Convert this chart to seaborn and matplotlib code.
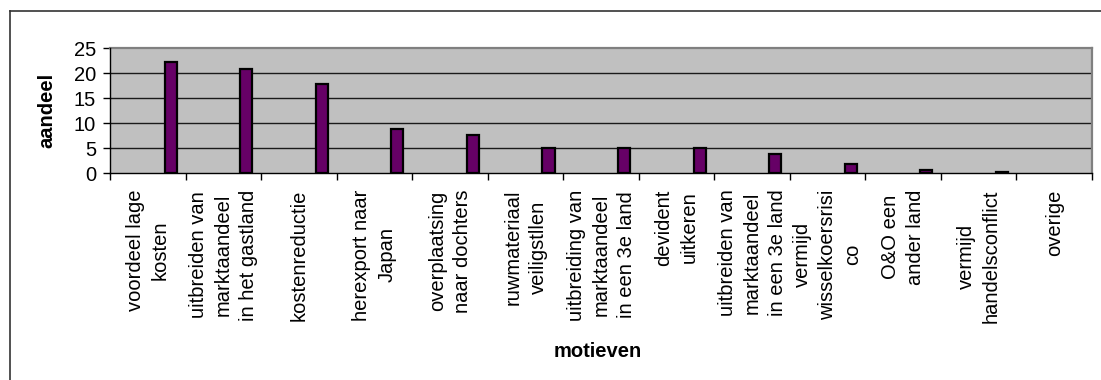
import matplotlib
matplotlib.use("Agg")
import matplotlib.pyplot as plt
import matplotlib.transforms as mtransforms
from matplotlib.lines import Line2D
import seaborn as sns
import numpy as np

# Motives for investing abroad and their share (%)
motieven = [
    "voordeel lage\nkosten",
    "uitbreiden van\nmarktaandeel\nin het gastland",
    "kostenreductie",
    "herexport naar\nJapan",
    "overplaatsing\nnaar dochters",
    "ruwmateriaal\nveiligstllen",
    "uitbreiding van\nmarktaandeel\nin een 3e land",
    "devident\nuitkeren",
    "uitbreiden van\nmarktaandeel\nin een 3e land",
    "vermijd\nwisselkoersrisi\nco",
    "O&O een\nander land",
    "vermijd\nhandelsconflict",
    "overige",
]
aandeel = [22.2, 20.8, 17.9, 8.9, 7.7, 5.1, 5.1, 5.1, 3.8, 1.9, 0.6, 0.3, 0.0]
y_ticks = [0, 5, 10, 15, 20, 25]

plt.rcParams["font.family"] = ["Liberation Sans", "DejaVu Sans"]

W, H = 1101, 380
DPI = 100
fig = plt.figure(figsize=(W / DPI, H / DPI), dpi=DPI)
fig.patch.set_facecolor("white")
FS = 14.5

# Plot area in pixel terms
px_left, px_right, px_top, px_bottom = 110, 1092, 48.3, 173.3
ax = fig.add_axes([px_left / W, 1 - px_bottom / H,
                   (px_right - px_left) / W, (px_bottom - px_top) / H])
ax.set_facecolor("#C0C0C0")

bar_width = 0.16
bar_shift = 0.305
sns.barplot(x=list(range(len(motieven))), y=aandeel, ax=ax,
            color="#660066", saturation=1, edgecolor="black",
            linewidth=1.6, width=bar_width, zorder=3)
# bars sit in the right part of each category slot
for p in ax.patches:
    p.set_x(p.get_x() + bar_shift)
    if p.get_height() == 0:
        p.set_linewidth(0)

ax.set_xlim(-0.5, len(motieven) - 0.5)
ax.set_ylim(0, 25)
ax.set_yticks(y_ticks)
ax.set_yticklabels([str(t) for t in y_ticks], fontsize=FS)

# gridlines
for t in y_ticks[1:-1]:
    ax.axhline(t, color="#1a1a1a", lw=1.0, zorder=1)

# tick marks on the category boundaries
ax.set_xticks(np.arange(len(motieven) + 1) - 0.5)
ax.set_xticklabels([])
ax.tick_params(axis="x", length=5, width=1, color="black")
ax.tick_params(axis="y", length=5, width=1, color="black", pad=5)

# vertical category labels: each line centred on the longest line of its label
renderer = fig.canvas.get_renderer()
def text_len_px(s):
    t = fig.text(0, 0, s, fontsize=FS)
    w = t.get_window_extent(renderer).width
    t.remove()
    return w

trans = mtransforms.blended_transform_factory(ax.transData, ax.transAxes)
gap_px = 16.0        # from axis line to the top of the labels
line_px = 25.0       # distance between label lines
pt = 72.0 / DPI
for i, name in enumerate(motieven):
    lines = name.split("\n")
    longest = max(text_len_px(s) for s in lines)
    dy = -(gap_px + longest / 2)
    n = len(lines)
    for k, s in enumerate(lines):
        dx = (k - (n - 1) / 2) * line_px
        ax.annotate(s, xy=(i, 0), xycoords=trans,
                    xytext=(dx * pt, dy * pt), textcoords="offset points",
                    rotation=90, rotation_mode="anchor",
                    ha="center", va="center", fontsize=FS,
                    annotation_clip=False)

for side in ("top", "right"):
    ax.spines[side].set_color("#808080")
    ax.spines[side].set_linewidth(1.6)
for side in ("left", "bottom"):
    ax.spines[side].set_color("black")
    ax.spines[side].set_linewidth(1.0)
    ax.spines[side].set_zorder(4)

ax.set_ylabel("aandeel", fontsize=FS, fontweight="bold")
ax.yaxis.set_label_coords(-0.055, 0.5)
ax.set_xlabel("motieven", fontsize=FS, fontweight="bold")
ax.xaxis.label.set_va("baseline")
ax.xaxis.set_label_coords(0.497, -1.47)

# chart frame (left and top edges)
fx = 9.5 / W
fy = 1 - 10.5 / H
fig.add_artist(Line2D([fx, fx], [0, fy], transform=fig.transFigure,
                      color="#333333", lw=1.2))
fig.add_artist(Line2D([fx, 1], [fy, fy], transform=fig.transFigure,
                      color="#333333", lw=1.2))

fig.savefig("out.png", dpi=DPI)
